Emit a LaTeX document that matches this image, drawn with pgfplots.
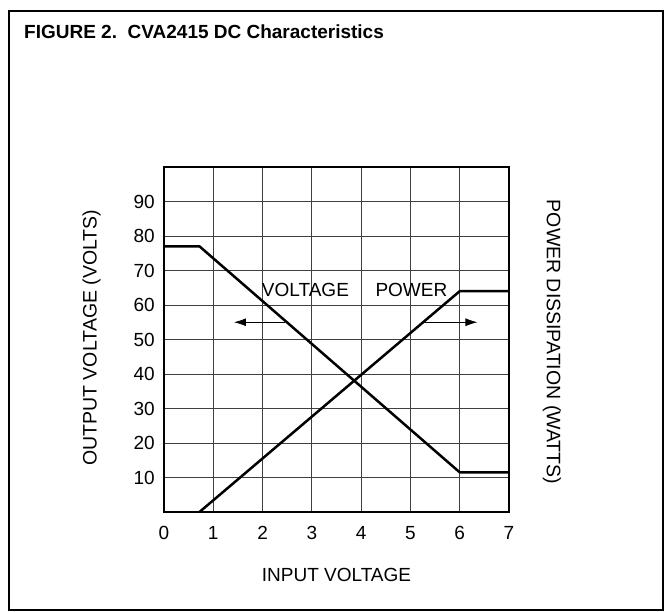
\documentclass[border=0pt]{standalone}
\usepackage{pgfplots}
\pgfplotsset{compat=1.18}
\usepackage{fontspec}
\setmainfont{Liberation Sans}
\usetikzlibrary{arrows.meta}
\begin{document}
\begin{tikzpicture}
\path[use as bounding box] (-164pt,-100pt) rectangle (501pt,512pt);
\begin{axis}[
  scale only axis,
  width=345pt, height=345pt,
  xmin=0, xmax=7, ymin=0, ymax=100,
  xtick={0,1,2,3,4,5,6,7},
  ytick={10,20,30,40,50,60,70,80,90},
  major tick length=0pt,
  grid=major,
  grid style={line width=0.8pt, black!75},
  axis line style={line width=1.8pt},
  /pgf/number format/assume math mode=true,
  tick label style={font=\fontsize{19}{22}\selectfont},
  yticklabel style={anchor=east, inner sep=0pt, xshift=-9pt},
  xticklabel style={anchor=north, inner sep=0pt, yshift=-14pt},
  xlabel={INPUT VOLTAGE},
  ylabel={OUTPUT VOLTAGE (VOLTS)},
  every axis x label/.style={at={(axis description cs:0.5,-0.183)}, anchor=center, font=\fontsize{19}{22}\selectfont},
  every axis y label/.style={at={(axis description cs:-0.21,0.505)}, anchor=center, rotate=90, font=\fontsize{19.5}{22}\selectfont},
]
\addplot[line width=2.5pt, black] coordinates {(0,77) (0.72,77) (6,11.5) (7,11.5)};
\addplot[line width=2.5pt, black] coordinates {(0.72,0) (6,64) (7,64)};
\addplot[line width=0.8pt, black, -{Latex[length=12pt,width=8pt]}] coordinates {(2.45,55) (1.42,55)};
\addplot[line width=0.8pt, black, -{Latex[length=12pt,width=8pt]}] coordinates {(5.26,55) (6.36,55)};
\node[font=\fontsize{19}{22}\selectfont, inner sep=0pt] at (axis cs:2.87,64.5) {VOLTAGE};
\node[font=\fontsize{19}{22}\selectfont, inner sep=0pt] at (axis cs:5.02,64.5) {POWER};
\end{axis}
\node[rotate=-90, font=\fontsize{19.5}{22}\selectfont, inner sep=0pt] at (388pt,170pt) {POWER DISSIPATION (WATTS)};
\node[anchor=west, font=\bfseries\fontsize{19}{22}\selectfont, inner sep=0pt] at (-140pt,480pt) {FIGURE 2.\ \ CVA2415 DC Characteristics};
\draw[line width=2.2pt] (-155pt,-98pt) rectangle (499pt,501pt);
\end{tikzpicture}
\end{document}
